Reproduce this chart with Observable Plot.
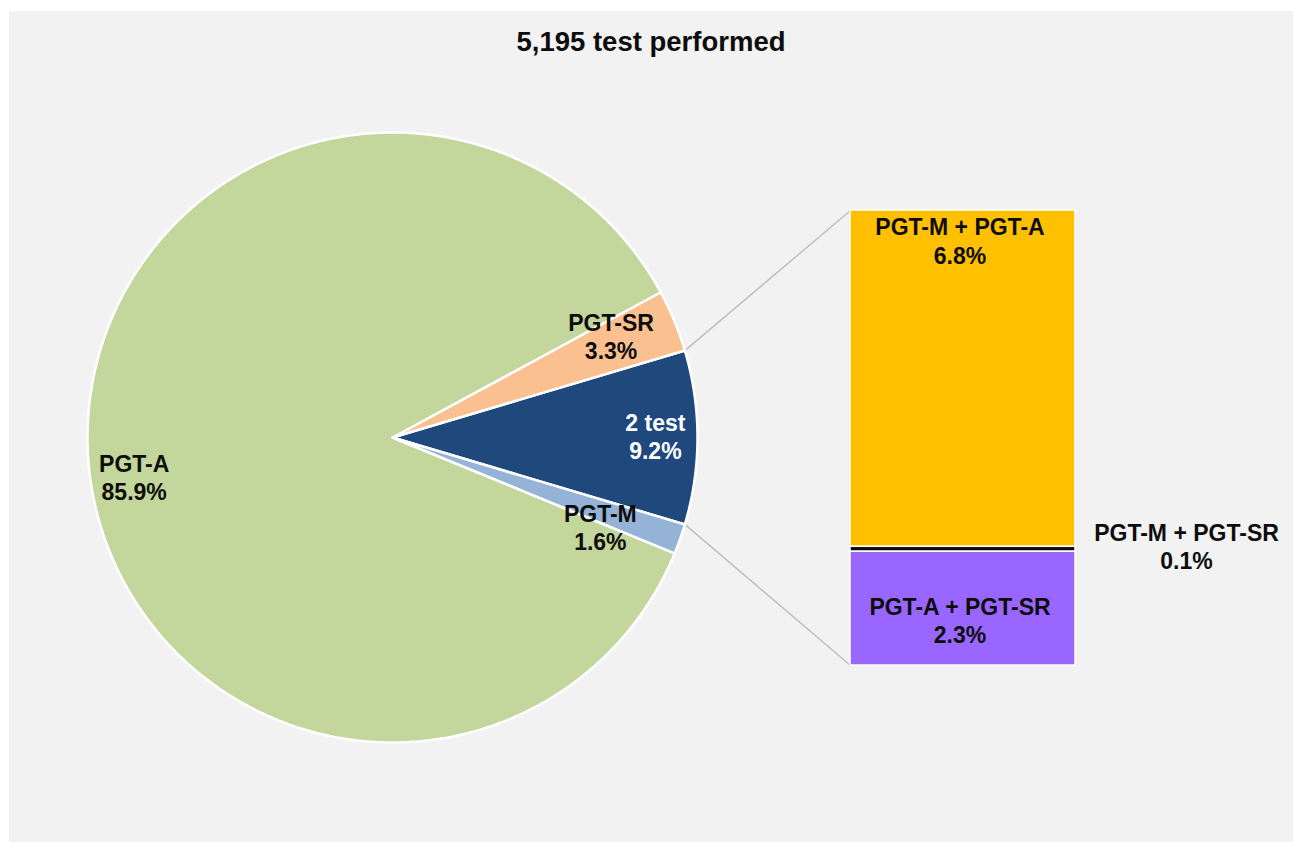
<!DOCTYPE html>
<html><head><meta charset="utf-8">
<script src="https://cdn.jsdelivr.net/npm/d3@7"></script>
<script src="https://cdn.jsdelivr.net/npm/@observablehq/plot@0.6"></script>
<style>
html,body{margin:0;background:#fff;font-family:"Liberation Sans",Arial,sans-serif;overflow:hidden;}
#panel{position:fixed;left:9px;top:11px;right:0;bottom:0;background:#f2f2f2;overflow:hidden;}
#title{height:64px;box-sizing:border-box;padding-top:17px;text-align:center;font-size:27.5px;line-height:27px;font-weight:bold;color:#0d0d0d;}
#chart svg{display:block;}
</style></head><body>
<div id="panel"><div id="title"></div><div id="chart"></div></div>
<script>
// ---- data ----
const title = "5,195 test performed";
const pieLabels = ["2 test", "PGT-SR", "PGT-A", "PGT-M"];
const pieValues = [9.2, 3.3, 85.9, 1.6];
const pieColors = ["#1f497d", "#fac090", "#c3d69b", "#95b3d7"];
const pieTextColors = ["#ffffff", "#0d0d0d", "#0d0d0d", "#0d0d0d"];
const barLabels = ["PGT-M + PGT-A", "PGT-M + PGT-SR", "PGT-A + PGT-SR"];
const barValues = [6.8, 0.1, 2.3];
const barColors = ["#ffc000", "#0d0d0d", "#9966ff"];

// ---- layout ----
const W = 1284, H = 767;
const cx = 383, cy = 362, R = 305;
const barX0 = 841, barX1 = 1066, barTop = 135, barBottom = 590;
// label placement for pie: [radius fraction, angle (deg, counterclockwise from east)]
const pieLabelPolar = [[0.862, 0.4], [0.79, 24.9], [0.857, 188.8], [0.742, -23.3]];
const barLabelPlacement = ["top", "right", "middle"];

document.getElementById("title").textContent = title;

const total = d3.sum(pieValues);
const start = -pieValues[0] / total * Math.PI;
let acc = start;
const slices = pieValues.map((v, i) => {
  const a0 = acc, a1 = acc + v / total * 2 * Math.PI;
  acc = a1;
  return {i, label: pieLabels[i], value: v, a0, a1};
});
const px = a => cx + R * Math.cos(a);
const py = a => cy - R * Math.sin(a);

const sliceMarks = slices.map(s => {
  const n = Math.max(4, Math.ceil((s.a1 - s.a0) / (Math.PI / 360)));
  const pts = [{x: cx, y: cy}];
  for (let k = 0; k <= n; k++) {
    const a = s.a0 + (s.a1 - s.a0) * k / n;
    pts.push({x: px(a), y: py(a)});
  }
  return Plot.line(pts, {x: "x", y: "y", fill: pieColors[s.i], stroke: "#ffffff", strokeWidth: 2.5, strokeLinejoin: "round", curve: "linear-closed"});
});

const pieText = slices.map(s => {
  const [f, deg] = pieLabelPolar[s.i];
  const a = deg * Math.PI / 180;
  return {x: cx + f * R * Math.cos(a), y: cy - f * R * Math.sin(a), text: `${s.label}\n${s.value.toFixed(1)}%`, color: pieTextColors[s.i]};
});

// bar segments
const barTotal = d3.sum(barValues);
const ys = d3.scaleLinear().domain([0, barTotal]).range([barTop, barBottom]);
let bacc = 0;
const segs = barValues.map((v, i) => {
  const s = {i, label: barLabels[i], value: v, y1: ys(bacc), y2: ys(bacc + v), color: barColors[i]};
  bacc += v;
  return s;
});
const barText = segs.map(s => {
  const place = barLabelPlacement[s.i];
  const mid = (s.y1 + s.y2) / 2;
  let x = (barX0 + barX1) / 2 - 3, y = mid;
  if (place === "top") y = s.y1 + 30;
  if (place === "middle") y = mid + 11;
  if (place === "right") { x = barX1 + 111; y = mid - 3; }
  return {x, y, text: `${s.label}\n${s.value.toFixed(1)}%`};
});

// connector lines from the "2 test" slice edges to the bar corners
const link = slices[0];
const connectors = [
  {x1: px(link.a1), y1: py(link.a1), x2: barX0, y2: ys(0)},
  {x1: px(link.a0), y1: py(link.a0), x2: barX0, y2: ys(barTotal)}
];

const chart = Plot.plot({
  width: W, height: H,
  margin: 0,
  style: {background: "transparent", fontFamily: "'Liberation Sans', Arial, sans-serif"},
  x: {type: "linear", domain: [0, W], range: [0, W], axis: null},
  y: {type: "linear", domain: [0, H], range: [0, H], axis: null},
  marks: [
    Plot.link(connectors, {x1: "x1", y1: "y1", x2: "x2", y2: "y2", stroke: "#bfbfbf", strokeWidth: 1.5}),
    ...sliceMarks,
    Plot.rect(segs, {x1: () => barX0, x2: () => barX1, y1: "y1", y2: "y2", fill: "color", stroke: "#ffffff", strokeWidth: 1.5}),
    Plot.text(pieText, {x: "x", y: "y", text: "text", fill: "color", fontSize: 23, fontWeight: "bold", lineHeight: 1.22}),
    Plot.text(barText, {x: "x", y: "y", text: "text", fill: "#0d0d0d", fontSize: 23, fontWeight: "bold", lineHeight: 1.22})
  ]
});
document.getElementById("chart").appendChild(chart);
</script>
</body></html>
